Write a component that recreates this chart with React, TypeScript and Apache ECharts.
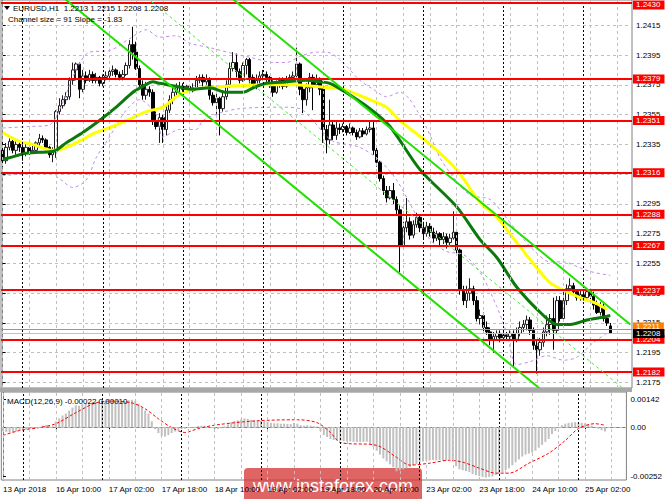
import React, { useEffect, useRef } from "react";
import * as echarts from "echarts";

// ---------- data ----------
const SLOT_COUNT = 189; // 183 hourly bars + right shift
const tickLabels = ["13 Apr 2018", "16 Apr 10:00", "17 Apr 02:00", "17 Apr 18:00", "18 Apr 10:00", "19 Apr 02:00", "19 Apr 18:00", "20 Apr 10:00", "23 Apr 02:00", "23 Apr 18:00", "24 Apr 10:00", "25 Apr 02:00"];
const priceTicks = [1.2415, 1.2395, 1.2375, 1.2355, 1.2335, 1.2315, 1.2295, 1.2275, 1.2255, 1.2235, 1.2215, 1.2195, 1.2175];
const macdTicks = [0.00142, 0, -0.00252];
const levels = [1.2430, 1.2379, 1.2351, 1.2316, 1.2288, 1.2267, 1.2237, 1.2204, 1.2182];
const askLine = 1.2211;
const bidLine = 1.2208;
const daySeparators = [6, 30, 54, 78, 102, 126, 150, 174];
const gridVerticals = [0, 8, 16, 24, 32, 40, 48, 56, 64, 72, 80, 88, 96, 104, 112, 120, 128, 136, 144, 152, 160, 168, 176, 184];

// [open, close, low, high]
const candles = [
  [1.2331, 1.2324, 1.2320, 1.2338], [1.2324, 1.2333, 1.2322, 1.2336], [1.2333, 1.2337, 1.2331, 1.2339], [1.2337, 1.2331, 1.2329, 1.2338],
  [1.2331, 1.2335, 1.2328, 1.2337], [1.2335, 1.2333, 1.2330, 1.2337], [1.2333, 1.2329, 1.2324, 1.2335], [1.2329, 1.2333, 1.2327, 1.2336],
  [1.2333, 1.2330, 1.2328, 1.2335], [1.2330, 1.2331, 1.2329, 1.2334], [1.2331, 1.2336, 1.2329, 1.2337], [1.2336, 1.2339, 1.2334, 1.2342],
  [1.2339, 1.2338, 1.2336, 1.2341], [1.2338, 1.2333, 1.2331, 1.2339], [1.2333, 1.2328, 1.2326, 1.2334], [1.2328, 1.2330, 1.2323, 1.2333],
  [1.2330, 1.2357, 1.2326, 1.2358], [1.2357, 1.2361, 1.2355, 1.2366], [1.2361, 1.2365, 1.2359, 1.2368], [1.2365, 1.2367, 1.2362, 1.2370],
  [1.2367, 1.2378, 1.2365, 1.2380], [1.2378, 1.2385, 1.2375, 1.2390], [1.2385, 1.2389, 1.2378, 1.2390], [1.2389, 1.2372, 1.2366, 1.2390],
  [1.2372, 1.2381, 1.2370, 1.2385], [1.2381, 1.2378, 1.2376, 1.2384], [1.2378, 1.2382, 1.2377, 1.2385], [1.2382, 1.2378, 1.2376, 1.2384],
  [1.2378, 1.2380, 1.2376, 1.2383], [1.2380, 1.2376, 1.2374, 1.2381], [1.2376, 1.2380, 1.2374, 1.2382], [1.2380, 1.2381, 1.2378, 1.2384],
  [1.2381, 1.2384, 1.2379, 1.2386], [1.2384, 1.2385, 1.2381, 1.2388], [1.2385, 1.2382, 1.2380, 1.2386], [1.2382, 1.2380, 1.2378, 1.2384],
  [1.2380, 1.2382, 1.2378, 1.2385], [1.2382, 1.2388, 1.2381, 1.2390], [1.2388, 1.2402, 1.2386, 1.2405], [1.2402, 1.2397, 1.2392, 1.2414],
  [1.2397, 1.2386, 1.2385, 1.2404], [1.2386, 1.2375, 1.2373, 1.2388], [1.2375, 1.2368, 1.2365, 1.2378], [1.2368, 1.2372, 1.2365, 1.2377],
  [1.2372, 1.2370, 1.2367, 1.2374], [1.2370, 1.2351, 1.2348, 1.2372], [1.2351, 1.2347, 1.2345, 1.2357], [1.2347, 1.2353, 1.2336, 1.2356],
  [1.2353, 1.2345, 1.2336, 1.2355], [1.2345, 1.2358, 1.2341, 1.2361], [1.2358, 1.2365, 1.2356, 1.2368], [1.2365, 1.2370, 1.2362, 1.2373],
  [1.2370, 1.2373, 1.2368, 1.2376], [1.2373, 1.2374, 1.2370, 1.2377], [1.2374, 1.2372, 1.2370, 1.2376], [1.2372, 1.2374, 1.2370, 1.2375],
  [1.2374, 1.2371, 1.2370, 1.2375], [1.2371, 1.2373, 1.2370, 1.2376], [1.2373, 1.2378, 1.2372, 1.2381], [1.2378, 1.2380, 1.2376, 1.2382],
  [1.2380, 1.2377, 1.2374, 1.2382], [1.2377, 1.2379, 1.2375, 1.2382], [1.2379, 1.2368, 1.2365, 1.2380], [1.2368, 1.2363, 1.2361, 1.2370],
  [1.2363, 1.2366, 1.2355, 1.2369], [1.2366, 1.2359, 1.2341, 1.2367], [1.2359, 1.2367, 1.2357, 1.2370], [1.2367, 1.2375, 1.2365, 1.2378],
  [1.2375, 1.2386, 1.2373, 1.2390], [1.2386, 1.2390, 1.2384, 1.2397], [1.2390, 1.2384, 1.2380, 1.2396], [1.2384, 1.2378, 1.2376, 1.2386],
  [1.2378, 1.2388, 1.2377, 1.2390], [1.2388, 1.2392, 1.2382, 1.2393], [1.2392, 1.2380, 1.2376, 1.2393], [1.2380, 1.2375, 1.2372, 1.2382],
  [1.2375, 1.2378, 1.2372, 1.2382], [1.2378, 1.2381, 1.2376, 1.2384], [1.2381, 1.2382, 1.2378, 1.2385], [1.2382, 1.2380, 1.2377, 1.2384],
  [1.2380, 1.2376, 1.2373, 1.2381], [1.2376, 1.2370, 1.2367, 1.2378], [1.2370, 1.2376, 1.2369, 1.2378], [1.2376, 1.2378, 1.2373, 1.2380],
  [1.2378, 1.2374, 1.2372, 1.2380], [1.2374, 1.2378, 1.2373, 1.2381], [1.2378, 1.2380, 1.2376, 1.2382], [1.2380, 1.2381, 1.2377, 1.2384],
  [1.2381, 1.2389, 1.2380, 1.2400], [1.2389, 1.2372, 1.2368, 1.2390], [1.2372, 1.2365, 1.2356, 1.2374], [1.2365, 1.2373, 1.2361, 1.2376],
  [1.2373, 1.2380, 1.2370, 1.2383], [1.2380, 1.2375, 1.2358, 1.2382], [1.2375, 1.2378, 1.2373, 1.2382], [1.2378, 1.2372, 1.2368, 1.2380],
  [1.2372, 1.2345, 1.2336, 1.2373], [1.2345, 1.2338, 1.2329, 1.2348], [1.2338, 1.2348, 1.2335, 1.2365], [1.2348, 1.2341, 1.2338, 1.2351],
  [1.2341, 1.2346, 1.2338, 1.2350], [1.2346, 1.2345, 1.2342, 1.2349], [1.2345, 1.2347, 1.2343, 1.2349], [1.2347, 1.2343, 1.2341, 1.2348],
  [1.2343, 1.2346, 1.2342, 1.2349], [1.2346, 1.2343, 1.2341, 1.2347], [1.2343, 1.2340, 1.2338, 1.2345], [1.2340, 1.2344, 1.2339, 1.2346],
  [1.2344, 1.2342, 1.2340, 1.2346], [1.2342, 1.2345, 1.2341, 1.2347], [1.2345, 1.2346, 1.2343, 1.2351], [1.2346, 1.2331, 1.2328, 1.2350],
  [1.2331, 1.2323, 1.2320, 1.2333], [1.2323, 1.2312, 1.2310, 1.2324], [1.2312, 1.2304, 1.2301, 1.2314], [1.2304, 1.2299, 1.2296, 1.2307],
  [1.2299, 1.2304, 1.2298, 1.2307], [1.2304, 1.2298, 1.2295, 1.2309], [1.2298, 1.2291, 1.2288, 1.2300], [1.2291, 1.2267, 1.2249, 1.2294],
  [1.2267, 1.2279, 1.2264, 1.2283], [1.2279, 1.2283, 1.2276, 1.2299], [1.2283, 1.2274, 1.2271, 1.2286], [1.2274, 1.2281, 1.2272, 1.2284],
  [1.2281, 1.2286, 1.2279, 1.2289], [1.2286, 1.2279, 1.2276, 1.2288], [1.2279, 1.2275, 1.2272, 1.2283], [1.2275, 1.2280, 1.2273, 1.2283],
  [1.2280, 1.2276, 1.2273, 1.2282], [1.2276, 1.2272, 1.2269, 1.2279], [1.2272, 1.2275, 1.2270, 1.2277], [1.2275, 1.2271, 1.2267, 1.2276],
  [1.2271, 1.2273, 1.2268, 1.2276], [1.2273, 1.2269, 1.2265, 1.2275], [1.2269, 1.2272, 1.2267, 1.2275], [1.2272, 1.2276, 1.2271, 1.2290],
  [1.2276, 1.2264, 1.2260, 1.2277], [1.2264, 1.2237, 1.2234, 1.2265], [1.2237, 1.2230, 1.2227, 1.2240], [1.2230, 1.2235, 1.2225, 1.2240],
  [1.2235, 1.2238, 1.2230, 1.2245], [1.2238, 1.2230, 1.2227, 1.2240], [1.2230, 1.2218, 1.2216, 1.2233], [1.2218, 1.2220, 1.2214, 1.2224],
  [1.2220, 1.2212, 1.2209, 1.2222], [1.2212, 1.2209, 1.2207, 1.2216], [1.2209, 1.2204, 1.2200, 1.2212], [1.2204, 1.2206, 1.2195, 1.2209],
  [1.2206, 1.2208, 1.2204, 1.2210], [1.2208, 1.2205, 1.2202, 1.2210], [1.2205, 1.2207, 1.2204, 1.2210], [1.2207, 1.2206, 1.2203, 1.2209],
  [1.2206, 1.2208, 1.2204, 1.2210], [1.2208, 1.2204, 1.2185, 1.2210], [1.2204, 1.2208, 1.2202, 1.2212], [1.2208, 1.2212, 1.2206, 1.2216],
  [1.2212, 1.2214, 1.2209, 1.2217], [1.2214, 1.2217, 1.2210, 1.2220], [1.2217, 1.2210, 1.2207, 1.2219], [1.2210, 1.2200, 1.2197, 1.2212],
  [1.2200, 1.2197, 1.2181, 1.2204], [1.2197, 1.2202, 1.2193, 1.2205], [1.2202, 1.2209, 1.2199, 1.2212], [1.2209, 1.2214, 1.2206, 1.2220],
  [1.2214, 1.2218, 1.2207, 1.2221], [1.2218, 1.2210, 1.2197, 1.2232], [1.2210, 1.2230, 1.2208, 1.2233], [1.2230, 1.2218, 1.2216, 1.2233],
  [1.2218, 1.2230, 1.2216, 1.2237], [1.2230, 1.2238, 1.2227, 1.2241], [1.2238, 1.2240, 1.2236, 1.2245], [1.2240, 1.2236, 1.2234, 1.2242],
  [1.2236, 1.2232, 1.2230, 1.2237], [1.2232, 1.2234, 1.2230, 1.2237], [1.2234, 1.2232, 1.2230, 1.2236], [1.2232, 1.2236, 1.2230, 1.2238],
  [1.2236, 1.2233, 1.2231, 1.2238], [1.2233, 1.2227, 1.2224, 1.2236], [1.2227, 1.2222, 1.2221, 1.2230], [1.2222, 1.2226, 1.2220, 1.2229],
  [1.2226, 1.2218, 1.2216, 1.2228], [1.2218, 1.2215, 1.2213, 1.2220], [1.2213, 1.2208, 1.2208, 1.2215],
];

// moving averages and envelope bands: [bar index, price]
const maSlow = [[0, 1.2343], [5, 1.2337], [9, 1.2335], [15, 1.2331], [16, 1.2331], [19, 1.2333], [22, 1.2336], [28, 1.2343], [33, 1.2347], [39, 1.2353], [43, 1.2357], [48, 1.2360], [52, 1.2367], [57, 1.2372], [62, 1.2373], [67, 1.2374], [77, 1.2375], [87, 1.2375], [93, 1.2374], [98, 1.2373], [102, 1.2372], [110, 1.2365], [115, 1.2360], [119, 1.2351], [128, 1.2335], [136, 1.2318], [143, 1.2296], [148, 1.2286], [154, 1.2269], [160, 1.2252], [164, 1.2242], [168, 1.2237], [173, 1.2232], [178, 1.2228], [181, 1.2224]];
const maFast = [[0, 1.2325], [2, 1.2326], [7, 1.2329], [14, 1.2330], [16, 1.2331], [19, 1.2336], [24, 1.2343], [29, 1.2351], [34, 1.2360], [39, 1.2370], [42, 1.2374], [45, 1.2377], [47, 1.2376], [52, 1.2374], [57, 1.2372], [62, 1.2373], [67, 1.2370], [72, 1.2370], [75, 1.2373], [79, 1.2376], [85, 1.2377], [91, 1.2378], [95, 1.2377], [98, 1.2376], [102, 1.2371], [110, 1.2359], [116, 1.2347], [125, 1.2318], [136, 1.2293], [143, 1.2271], [148, 1.2259], [154, 1.2239], [162, 1.2220], [166, 1.2214], [170, 1.2214], [175, 1.2217], [180, 1.2219], [182, 1.2220]];
const bandUpper = [[0, 1.2346], [8, 1.2347], [14, 1.2348], [17, 1.2358], [22, 1.2385], [26, 1.2397], [32, 1.2398], [38, 1.2406], [43, 1.2412], [47, 1.2407], [52, 1.2408], [56, 1.2403], [62, 1.2400], [69, 1.2396], [75, 1.2393], [81, 1.2390], [85, 1.2390], [89, 1.2394], [94, 1.2397], [97, 1.2397], [101, 1.2392], [107, 1.2378], [111, 1.2372], [115, 1.2367], [119, 1.2370], [122, 1.2365], [127, 1.2346], [131, 1.2326], [135, 1.2313], [140, 1.2301], [146, 1.2298], [150, 1.2288], [155, 1.2274], [159, 1.2264], [164, 1.2256], [168, 1.2256], [173, 1.2252], [177, 1.2249], [182, 1.2247]];
const bandLower = [[0, 1.2314], [14, 1.2316], [17, 1.2312], [21, 1.2306], [25, 1.2311], [28, 1.2326], [32, 1.2340], [37, 1.2358], [41, 1.2365], [46, 1.2355], [48, 1.2340], [53, 1.2345], [58, 1.2345], [60, 1.2351], [65, 1.2356], [71, 1.2359], [83, 1.2360], [89, 1.2359], [93, 1.2351], [96, 1.2343], [99, 1.2337], [107, 1.2333], [113, 1.2324], [118, 1.2311], [123, 1.2291], [128, 1.2271], [133, 1.2263], [138, 1.2261], [143, 1.2249], [148, 1.2226], [151, 1.2208], [154, 1.2187], [158, 1.2189], [163, 1.2193], [168, 1.2190], [172, 1.2192], [177, 1.2202], [181, 1.2208]];

// regression channel anchors: [bar index, price]
const channelUpper = [[60, 1.2449], [188, 1.2214]];
const channelMid = [[0, 1.2513], [188, 1.2167]];
const channelLower = [[0, 1.2467], [188, 1.2121]];

// MACD histogram per bar and signal line
const macdHist = [
  -0.00020, -0.00024, -0.00026, -0.00025, -0.00022, -0.00020,
  -0.00015, -0.00012, -0.00010, -0.00008, -0.00005,
  0.00002, 0.00008, 0.00010, 0.00008, 0.00005,
  0.00030, 0.00045, 0.00060, 0.00070, 0.00085,
  0.00100, 0.00112, 0.00110, 0.00118, 0.00122,
  0.00125, 0.00128, 0.00130, 0.00128, 0.00130,
  0.00132, 0.00134, 0.00135, 0.00134, 0.00132,
  0.00130, 0.00132, 0.00138, 0.00140, 0.00135,
  0.00120, 0.00100, 0.00085, 0.00070, 0.00030,
  -0.00010, -0.00030, -0.00045, -0.00048, -0.00040,
  -0.00030, -0.00022, -0.00015, -0.00010, -0.00008,
  -0.00005, -0.00003, 0.00002, 0.00006, 0.00008,
  0.00008, 0.00002, -0.00005, -0.00008, -0.00010, -0.00005, 0.00005, 0.00015, 0.00025, 0.00032,
  0.00035, 0.00040, 0.00045, 0.00042, 0.00038, 0.00035, 0.00034, 0.00033, 0.00030, 0.00028,
  0.00022, 0.00020, 0.00020, 0.00018, 0.00018, 0.00017, 0.00016, 0.00022, 0.00018, 0.00010,
  0.00008, 0.00010, 0.00008, 0.00006, 0.00003,
  -0.00020, -0.00040, -0.00050, -0.00060, -0.00065,
  -0.00068, -0.00070, -0.00072, -0.00072, -0.00073, -0.00075, -0.00076, -0.00076, -0.00075, -0.00074,
  -0.00085, -0.00100, -0.00120, -0.00140, -0.00160,
  -0.00175, -0.00190, -0.00205, -0.00225, -0.00220,
  -0.00215, -0.00210, -0.00205, -0.00195, -0.00190,
  -0.00180, -0.00175, -0.00170, -0.00170, -0.00168, -0.00170, -0.00168, -0.00172, -0.00170, -0.00165,
  -0.00175, -0.00200, -0.00215, -0.00220, -0.00225,
  -0.00230, -0.00240, -0.00245, -0.00250, -0.00255,
  -0.00258, -0.00255, -0.00252, -0.00245, -0.00238,
  -0.00230, -0.00220, -0.00210, -0.00195, -0.00180,
  -0.00165, -0.00150, -0.00140, -0.00135, -0.00130,
  -0.00120, -0.00105, -0.00090, -0.00075, -0.00060,
  -0.00035, -0.00020, -0.00005, 0.00010, 0.00018,
  0.00022, 0.00024, 0.00026, 0.00024, 0.00022,
  0.00020, 0.00015, 0.00008, 0.00002, -0.00008, -0.00015, -0.00022,
];
const macdSignal = [[0, -0.00042], [5, -0.00017], [11, -0.00002], [16, 0.00018], [22, 0.00074], [28, 0.00124], [33, 0.00134], [39, 0.00124], [43, 0.00094], [47, 0.00043], [51, -0.00002], [55, -0.00027], [59, -0.00007], [65, 0.00013], [77, 0.00033], [89, 0.00038], [95, 0.00023], [99, -0.00027], [102, -0.00078], [113, -0.00093], [119, -0.00154], [123, -0.00194], [129, -0.00184], [135, -0.00169], [139, -0.00179], [144, -0.00209], [149, -0.00235], [153, -0.00235], [159, -0.00184], [165, -0.00133], [170, -0.00068], [174, -0.00007], [179, 0.00018], [182, 0.00010]];

// ---------- chart ----------
const FONT = "'Liberation Sans', Arial, sans-serif";
const PLOT_LEFT = 1;
const PLOT_W = 631;
const MAIN_H = 388;
const MACD_TOP = 392;
const MACD_H = 88;

const slots = Array.from({ length: SLOT_COUNT }, (_, i) => String(i));

function levelLine(value: number, color: string, width: number, text: string, bg: string, fg: string, dy = 0) {
  return {
    yAxis: value,
    lineStyle: { color, width, type: "solid" },
    label: {
      show: true,
      position: "end",
      distance: 1,
      offset: [0, dy],
      formatter: text,
      backgroundColor: bg,
      color: fg,
      fontFamily: FONT,
      fontSize: 8,
      lineHeight: 9,
      padding: [0, 4, 0, 3],
    },
  };
}

function verticalLines(): any[] {
  const out: any[] = [];
  gridVerticals.forEach((i) =>
    out.push({ xAxis: i, lineStyle: { color: "#c0c0c0", width: 1, type: [3, 3] } })
  );
  daySeparators.forEach((i) =>
    out.push({ xAxis: i, lineStyle: { color: "#000000", width: 1, type: [2, 2] } })
  );
  return out;
}

function buildOption(): any {
  const labelInterval = (i: number) => i % 16 === 0 && i / 16 < tickLabels.length;
  const lineBase = { type: "line", showSymbol: false, silent: true, clip: true };
  return {
    animation: false,
    backgroundColor: "#ffffff",
    grid: [
      { left: PLOT_LEFT, top: 0, width: PLOT_W, height: MAIN_H, show: true, borderColor: "#808080", borderWidth: 1, backgroundColor: "#ffffff" },
      { left: PLOT_LEFT, top: MACD_TOP, width: PLOT_W, height: MACD_H, show: true, borderColor: "#808080", borderWidth: 1, backgroundColor: "#ffffff" },
    ],
    xAxis: [
      { type: "category", gridIndex: 0, data: slots, boundaryGap: true, show: false },
      { type: "value", gridIndex: 0, min: -0.5, max: SLOT_COUNT - 0.5, show: false },
      {
        type: "category", gridIndex: 1, data: slots, boundaryGap: true,
        axisLine: { show: true, lineStyle: { color: "#808080" } },
        axisTick: { show: true, interval: labelInterval, alignWithLabel: true, length: 3, lineStyle: { color: "#000" } },
        axisLabel: {
          show: true, interval: labelInterval, align: "left", margin: 5,
          fontFamily: FONT, fontSize: 8, color: "#000",
          formatter: (_v: string, i: number) => tickLabels[Math.round(i / 16)] ?? "",
        },
        splitLine: { show: false },
      },
      { type: "value", gridIndex: 1, min: -0.5, max: SLOT_COUNT - 0.5, show: false },
    ],
    yAxis: [
      {
        type: "value", gridIndex: 0, position: "right", min: 1.21713, max: 1.2432, scale: true,
        axisLine: { show: true, lineStyle: { color: "#808080" } },
        axisTick: { show: true, customValues: priceTicks, length: 3, lineStyle: { color: "#000" } },
        axisLabel: { show: true, customValues: priceTicks, margin: 4, fontFamily: FONT, fontSize: 8, color: "#000", formatter: (v: number) => v.toFixed(4) },
        splitLine: { show: true, lineStyle: { color: "#c0c0c0", type: [3, 3], width: 1 } },
      },
      {
        type: "value", gridIndex: 1, position: "right", min: -0.0027, max: 0.0018, scale: true,
        axisLine: { show: true, lineStyle: { color: "#808080" } },
        axisTick: { show: true, customValues: macdTicks, length: 3, lineStyle: { color: "#000" } },
        axisLabel: {
          show: true, customValues: macdTicks, margin: 4, fontFamily: FONT, fontSize: 8, color: "#000",
          formatter: (v: number) => (Math.abs(v) < 1e-9 ? "0.00" : v.toFixed(5)),
        },
        splitLine: { show: false },
      },
    ],
    series: [
      {
        ...lineBase, name: "gridMain", xAxisIndex: 1, yAxisIndex: 0, z: 1,
        data: [[-10, 1.23]],
        markLine: { silent: true, precision: 4, symbol: ["none", "none"], label: { show: false }, data: verticalLines() },
      },
      {
        ...lineBase, name: "gridMacd", xAxisIndex: 3, yAxisIndex: 1, z: 1,
        data: [[-10, 0]],
        markLine: {
          silent: true, precision: 6, symbol: ["none", "none"], label: { show: false },
          data: [...verticalLines(), { yAxis: 0, lineStyle: { color: "#c0c0c0", width: 1, type: [3, 3] } }],
        },
      },
      {
        type: "candlestick", name: "EURUSD", xAxisIndex: 0, yAxisIndex: 0, z: 2,
        data: candles, barWidth: 3,
        itemStyle: { color: "#ffffff", color0: "#000000", borderColor: "#202020", borderColor0: "#000000", borderWidth: 1 },
      },
      {
        ...lineBase, name: "levels", xAxisIndex: 1, yAxisIndex: 0, z: 3,
        data: [[-10, 1.23]],
        markLine: {
          silent: true, precision: 4, symbol: ["none", "none"],
          data: [
            ...levels.map((v, k) => levelLine(v, "#ff0000", 2, v.toFixed(4), "#ff0000", "#ffffff", k === 0 ? 2 : 0)),
            levelLine(askLine, "#ff7f00", 1, askLine.toFixed(4), "#ff7f00", "#ffffff", -2),
            levelLine(bidLine, "#c0c0c0", 1, bidLine.toFixed(4), "#000000", "#ffffff"),
          ],
        },
      },
      { ...lineBase, name: "bandUpper", xAxisIndex: 1, yAxisIndex: 0, z: 3, smooth: 0.3, data: bandUpper, lineStyle: { color: "#c08ce8", width: 1, type: [3, 3] } },
      { ...lineBase, name: "bandLower", xAxisIndex: 1, yAxisIndex: 0, z: 3, smooth: 0.3, data: bandLower, lineStyle: { color: "#c08ce8", width: 1, type: [3, 3] } },
      { ...lineBase, name: "maSlow", xAxisIndex: 1, yAxisIndex: 0, z: 4, smooth: 0.3, data: maSlow, lineStyle: { color: "#ffff00", width: 3 } },
      { ...lineBase, name: "maFast", xAxisIndex: 1, yAxisIndex: 0, z: 4, smooth: 0.3, data: maFast, lineStyle: { color: "#0b7a0b", width: 3 } },
      { ...lineBase, name: "channelUpper", xAxisIndex: 1, yAxisIndex: 0, z: 5, data: channelUpper, lineStyle: { color: "#22e000", width: 2 } },
      { ...lineBase, name: "channelLower", xAxisIndex: 1, yAxisIndex: 0, z: 5, data: channelLower, lineStyle: { color: "#22e000", width: 2 } },
      { ...lineBase, name: "channelMid", xAxisIndex: 1, yAxisIndex: 0, z: 5, data: channelMid, lineStyle: { color: "#44ee33", width: 1, type: [3, 3] } },
      {
        type: "bar", name: "MACD", xAxisIndex: 2, yAxisIndex: 1, z: 2, silent: true,
        data: macdHist, barWidth: 2, itemStyle: { color: "#c0c0c0" },
      },
      { ...lineBase, name: "signal", xAxisIndex: 3, yAxisIndex: 1, z: 3, smooth: 0.3, data: macdSignal, lineStyle: { color: "#ff0000", width: 1, type: [3, 2] } },
    ],
    graphic: [
      { type: "rect", silent: true, z: 50, shape: { x: 0, y: MAIN_H, width: PLOT_LEFT + PLOT_W, height: MACD_TOP - MAIN_H }, style: { fill: "#a8a8a8" } },
      { type: "polygon", silent: true, z: 50, shape: { points: [[4, 6], [10, 6], [7, 10]] }, style: { fill: "#000" } },
      { type: "text", silent: true, z: 50, x: 13, y: 4, style: { text: "EURUSD,H1  1.2213 1.2215 1.2208 1.2208", fontFamily: FONT, fontSize: 8, fill: "#000" } },
      { type: "text", silent: true, z: 50, x: 8, y: 15, style: { text: "Channel size = 91 Slope = -1.83", fontFamily: FONT, fontSize: 8, fill: "#000" } },
      { type: "text", silent: true, z: 50, x: 7, y: 397, style: { text: "MACD(12,26,9) -0.00022 0.00010", fontFamily: FONT, fontSize: 8, fill: "#000" } },
      {
        type: "group", silent: true, z: 60,
        children: [
          { type: "rect", shape: { x: 244, y: 468, width: 178, height: 40, r: 4 }, style: { fill: "rgba(214,56,56,0.78)" } },
          { type: "text", x: 333, y: 486, style: { text: "www.instaforex.com", fontFamily: FONT, fontSize: 18, fill: "#ffffff", align: "center", verticalAlign: "middle" } },
        ],
      },
    ],
  };
}

export default function App() {
  const ref = useRef<HTMLDivElement>(null);
  useEffect(() => {
    if (!ref.current) return;
    const chart = echarts.init(ref.current, null, { renderer: "svg" });
    chart.setOption(buildOption());
    return () => chart.dispose();
  }, []);
  return (
    <div
      ref={ref}
      style={{ position: "absolute", left: 0, top: 0, width: 665, height: 499, background: "#ffffff" }}
    />
  );
}
